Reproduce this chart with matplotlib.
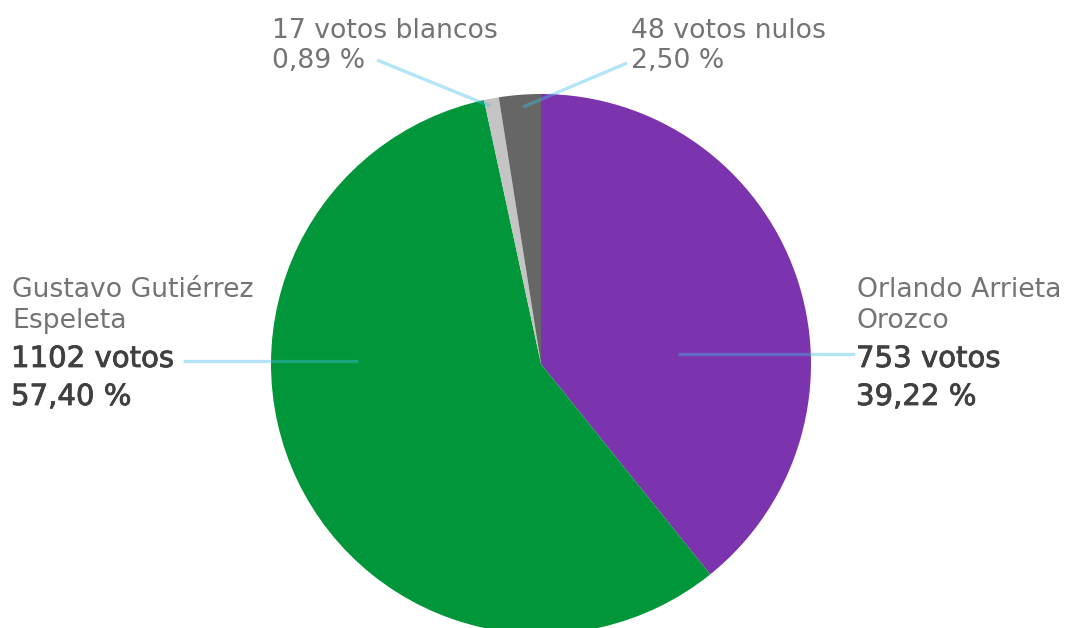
import matplotlib
matplotlib.use("Agg")
import matplotlib.pyplot as plt
import matplotlib.patheffects as pe

# Data
names = ["Orlando Arrieta\nOrozco", "Gustavo Gutiérrez\nEspeleta", "votos blancos", "votos nulos"]
votes = [753, 1102, 17, 48]
percents = ["39,22 %", "57,40 %", "0,89 %", "2,50 %"]
colors = ["#7b33ae", "#009639", "#c4c4c4", "#666666"]

W, H = 1074, 628
fig = plt.figure(figsize=(W / 100, H / 100), dpi=100)
ax = fig.add_axes([0, 0, 1, 1])

cx, cy, r = 541, H - 364, 270
ax.pie(votes, colors=colors, startangle=90, counterclock=False,
       center=(cx, cy), radius=r, frame=True,
       wedgeprops=dict(linewidth=0, antialiased=True))
ax.set_xlim(0, W)
ax.set_ylim(0, H)
ax.set_aspect("equal")
ax.axis("off")

def Y(y):
    return H - y

line_kw = dict(color="#41beeb", alpha=0.4, lw=2.4, solid_capstyle="butt", zorder=5)
# leader lines
ax.plot([183, 358], [Y(361), Y(361)], **line_kw)
ax.plot([678, 855], [Y(354), Y(354)], **line_kw)
ax.plot([377, 490], [Y(60), Y(106)], **line_kw)
ax.plot([627, 523], [Y(63), Y(107)], **line_kw)

font = "DejaVu Sans"
name_kw = dict(fontsize=19.2, color="#737373", family=font, va="baseline", ha="left")
big_kw = dict(fontsize=21, color="#404040", family=font, va="baseline", ha="left",
              path_effects=[pe.withStroke(linewidth=0.6, foreground="#404040")])

# Gustavo (left)
g_name = names[1].split("\n")
ax.text(12, Y(297), g_name[0], **name_kw)
ax.text(12, Y(328), g_name[1], **name_kw)
ax.text(11, Y(367), f"{votes[1]} votos", **big_kw)
ax.text(11, Y(405), percents[1], **big_kw)

# Orlando (right)
o_name = names[0].split("\n")
ax.text(857, Y(297), o_name[0], **name_kw)
ax.text(857, Y(328), o_name[1], **name_kw)
ax.text(856, Y(367), f"{votes[0]} votos", **big_kw)
ax.text(856, Y(405), percents[0], **big_kw)

# top labels
ax.text(272, Y(38), f"{votes[2]} {names[2]}", **name_kw)
ax.text(272, Y(68), percents[2], **name_kw)
ax.text(631, Y(38), f"{votes[3]} {names[3]}", **name_kw)
ax.text(631, Y(68), percents[3], **name_kw)

fig.savefig("out.png", dpi=100, facecolor="white")
